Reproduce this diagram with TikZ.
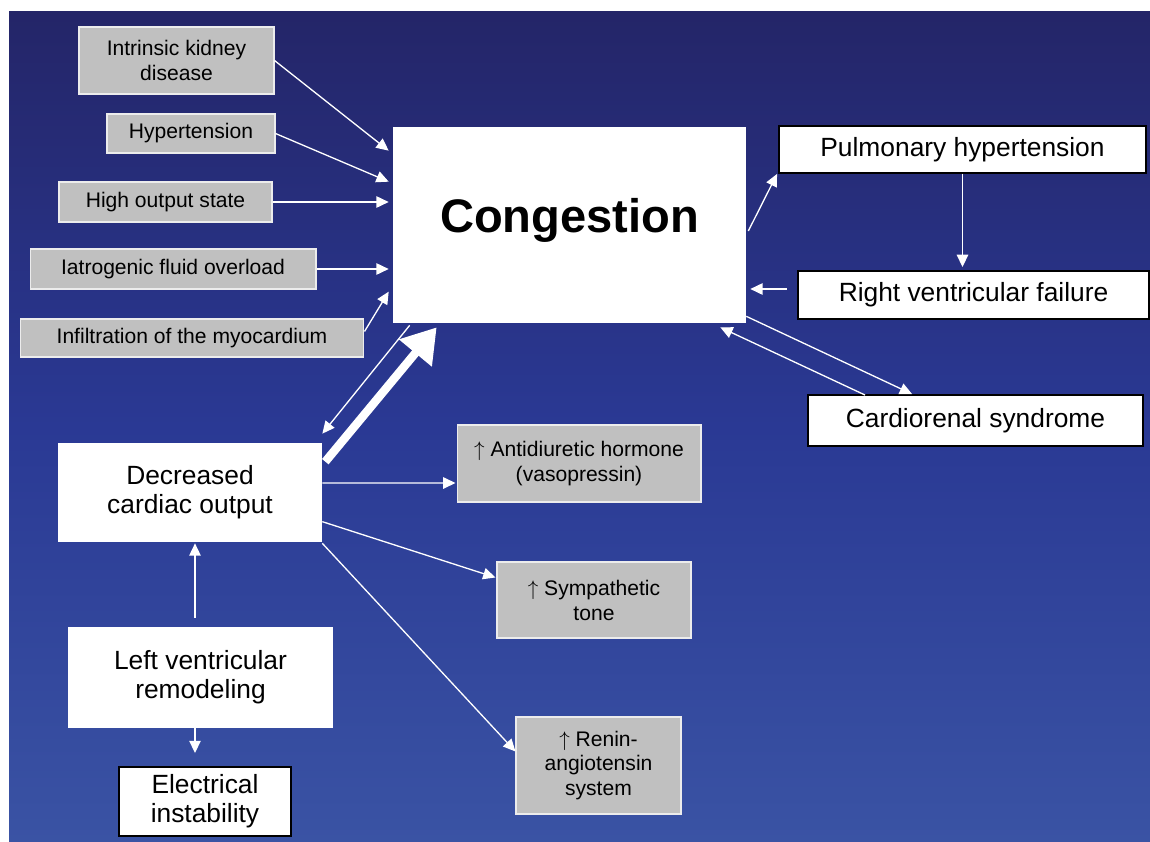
\documentclass[tikz,border=0pt]{standalone}
\usepackage{fontspec}
\setmainfont{Liberation Sans}
\usetikzlibrary{arrows.meta,shapes,calc}
\definecolor{slidetop}{RGB}{36,37,104}
\definecolor{slidemid}{RGB}{42,57,148}
\definecolor{slidebot}{RGB}{58,83,164}
\definecolor{boxgray}{RGB}{192,192,192}
\tikzstyle{cause box}=[rectangle, draw=white!85!gray, fill=boxgray
%,rounded corners
,line width=0.6pt
,inner sep=2pt, align=center
,font=\fontsize{12}{14.2}\selectfont
]
\tikzstyle{main box} = [rectangle, fill=white, inner sep=2pt, align=center, font=\fontsize{15}{16.6}\selectfont]
\tikzstyle{outcome box} = [main box, draw=black, line width=1.1pt]
\tikzstyle{link} = [draw=white, line width=0.75pt, -{Triangle[length=7pt,width=6.5pt]}]
\tikzstyle{big link} = [draw=white, line width=4.8pt, -{Triangle[length=19pt,width=23pt]}]

\begin{document}
\begin{tikzpicture}[x=0.02cm, y=-0.02cm]
    % Slide background with its white margin
    \useasboundingbox (0,0) rectangle (1150,842);
    \fill[top color=slidetop, bottom color=slidebot, middle color=slidemid] (9,11) rectangle (1150,842);

    % First the grey boxes
    \foreach \pos/\name/\w/\h/\txt in {{(176.5,60.5)/kidney/3.9/1.34/{Intrinsic kidney\\disease}},
        {(191,133.5)/htn/3.36/0.78/Hypertension}, {(165.5,202)/highout/4.26/0.8/High output state},
        {(173,269)/iatro/5.72/0.8/Iatrogenic fluid overload}, {(192,338)/infil/6.88/0.76/Infiltration of the myocardium},
        {(579,463.5)/adh/4.88/1.54/{$\uparrow$ Antidiuretic hormone\\(vasopressin)}},
        {(594,600)/symp/3.88/1.52/{$\uparrow$ Sympathetic\\tone}},
        {(598.5,765.5)/renin/3.3/1.94/{$\uparrow$ Renin-\\angiotensin\\system}}}
        \node[cause box, minimum width=\w cm, minimum height=\h cm] (\name) at \pos {\txt};

    % White boxes
    \node[main box, minimum width=7.06cm, minimum height=3.92cm, text depth=11pt, font=\fontsize{26.8}{30}\selectfont\bfseries] (cong) at (569.5,225) {Congestion};
    \node[main box, minimum width=5.28cm, minimum height=1.98cm] (dco) at (190,492.5) {Decreased\\cardiac output};
    \node[main box, minimum width=5.3cm, minimum height=2.02cm] (lvr) at (200.5,677.5) {Left ventricular\\remodeling};

    \foreach \pos/\name/\w/\h/\txt in {{(962.5,149.5)/pulm/7.34/0.94/Pulmonary hypertension},
        {(973.5,295)/rvf/7.02/0.96/Right ventricular failure}, {(975.5,420.5)/crs/6.7/1.02/Cardiorenal syndrome},
        {(205,801.5)/elec/3.44/1.38/{Electrical\\instability}}}
        \node[outcome box, minimum width=\w cm, minimum height=\h cm] (\name) at \pos {\txt};

    % Connect boxes with arrows
    \path[link] (kidney.east) -- ($(cong.north west)+(-4,24)$);
    \path[link] (htn.east) -- ($(cong.north west)+(-4,55)$);
    \path[link] (highout.east) -- ($(cong.west |- highout)+(-4,0)$);
    \path[link] (iatro.east) -- ($(cong.west |- iatro)+(-4,0)$);
    \path[link] ($(infil.north east)+(0,13)$) -- ($(cong.north west)+(-4,165)$);
    \path[link] ($(cong.east)+(2,6)$) -- ($(pulm.south west)+(-1,0)$);
    \path[link] (pulm.south) -- ($(rvf.north -| pulm.south)+(0,-3)$);
    \path[link] ($(rvf.west)+(-10,-6)$) -- ($(cong.east |- rvf.west)+(4,-6)$);
    \path[link] ($(cong.south east)+(0,-7)$) -- ($(crs.north west)+(105,0)$);
    \path[link] ($(crs.north west)+(58,1)$) -- ($(cong.south east)+(-26,4)$);
    \path[link] ($(cong.south west)+(17,2)$) -- ($(dco.north east)+(0,-9)$);
    \path[big link] ($(dco.north east)+(3,19)$) -- ($(cong.south west)+(44,4)$);
    \path[link] ($(dco.east)+(0,-9.5)$) -- ($(adh.west)+(-1,19.5)$);
    \path[link] ($(dco.north east)+(0,79)$) -- ($(symp.north west)+(-1,16)$);
    \path[link] ($(dco.south east)+(0,1)$) -- ($(renin.north west)+(0,35)$);
    \path[link] ($(lvr.north)+(-5.5,-9)$) -- ($(dco.south)+(5,1)$);
    \path[link] ($(lvr.south)+(-5.5,0)$) -- ($(elec.north)+(-10,-13)$);
\end{tikzpicture}
\end{document}
